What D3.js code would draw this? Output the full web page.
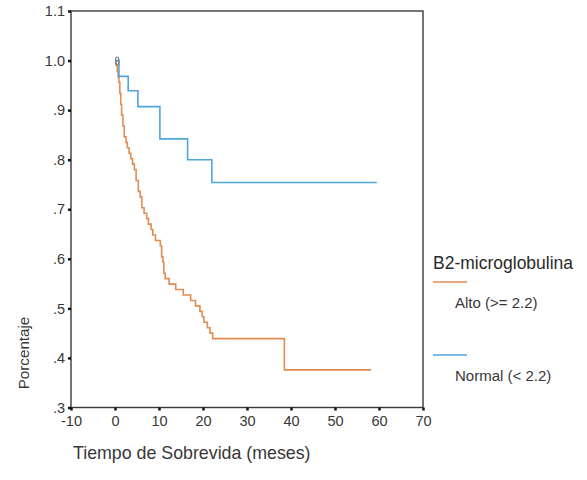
<!DOCTYPE html>
<html>
<head>
<meta charset="utf-8">
<script src="https://cdn.jsdelivr.net/npm/d3@7"></script>
<style>
  html, body { margin: 0; padding: 0; background: #fff; }
  svg { display: block; font-family: "Liberation Sans", Arial, sans-serif; }
</style>
</head>
<body>
<svg id="chart" width="587" height="480"></svg>
<script>
// ---- Data ----
const xTicks = [-10, 0, 10, 20, 30, 40, 50, 60, 70];
const xTickLabels = ["-10", "0", "10", "20", "30", "40", "50", "60", "70"];
const yTicks = [0.3, 0.4, 0.5, 0.6, 0.7, 0.8, 0.9, 1.0, 1.1];
const yTickLabels = [".3", ".4", ".5", ".6", ".7", ".8", ".9", "1.0", "1.1"];

// Normal (< 2.2): step times and survival after each step
const normalTimes  = [0, 0.9, 3.0, 5.2, 10.2, 16.5, 22.0, 59.5];
const normalValues = [1.0, 0.968, 0.939, 0.907, 0.842, 0.800, 0.754, 0.754];

// Alto (>= 2.2)
const altoTimes = [0, 0.3, 0.5, 0.7, 0.9, 1.1, 1.3, 1.5, 1.8, 2.1, 2.5, 2.8, 3.2, 3.6, 4.0, 4.4,
  4.8, 5.3, 5.7, 6.1, 6.6, 7.2, 7.6, 8.2, 8.6, 9.2, 10.3, 10.6, 10.9, 11.1, 11.4, 12.3, 13.8,
  15.5, 17.2, 18.3, 19.3, 19.8, 20.2, 21.0, 21.6, 22.2, 38.5, 58.2];
const altoValues = [1.0, 0.990, 0.978, 0.967, 0.956, 0.934, 0.912, 0.890, 0.868, 0.846, 0.835, 0.824,
  0.813, 0.802, 0.791, 0.780, 0.758, 0.736, 0.725, 0.703, 0.692, 0.681, 0.670, 0.659, 0.648, 0.637,
  0.626, 0.604, 0.593, 0.571, 0.560, 0.549, 0.538, 0.527, 0.516, 0.505, 0.494, 0.483, 0.472, 0.461,
  0.450, 0.439, 0.376, 0.376];

const censorTimes = [0.5];
const censorValues = [1.0];

const legendTitle = "B2-microglobulina";
const seriesNames = ["Alto (>= 2.2)", "Normal (< 2.2)"];
const seriesColors = ["#e38c52", "#4ea6da"];

// ---- Drawing ----
const svg = d3.select("#chart");
const x = d3.scaleLinear().domain([-10, 70]).range([71, 423]);
const y = d3.scaleLinear().domain([0.3, 1.1]).range([407.5, 11]);
const textColor = "#383838";

// Frame
svg.append("rect")
  .attr("x", x(-10)).attr("y", y(1.1))
  .attr("width", x(70) - x(-10)).attr("height", y(0.3) - y(1.1))
  .attr("fill", "none").attr("stroke", "#3a3a3a").attr("stroke-width", 1.4);

// Y axis
const yAxis = d3.axisLeft(y).tickValues(yTicks)
  .tickFormat((d, i) => yTickLabels[i]).tickSize(3).tickPadding(3);
const gy = svg.append("g").attr("transform", `translate(${x(-10)},0)`).call(yAxis);
gy.attr("font-size", null).attr("font-family", null);
gy.select(".domain").remove();
gy.selectAll(".tick line").attr("stroke", "#111").attr("stroke-width", 2.5);
gy.selectAll(".tick text").attr("fill", textColor).style("font-size", "14.5px");

// X axis
const xAxis = d3.axisBottom(x).tickValues(xTicks)
  .tickFormat((d, i) => xTickLabels[i]).tickSize(3).tickPadding(5);
const gx = svg.append("g").attr("transform", `translate(0,${y(0.3)})`).call(xAxis);
gx.attr("font-size", null).attr("font-family", null);
gx.select(".domain").remove();
gx.selectAll(".tick line").attr("stroke", "#111").attr("stroke-width", 2.5);
gx.selectAll(".tick text").attr("fill", textColor).style("font-size", "14.5px");

// Axis titles
svg.append("text")
  .attr("x", 73).attr("y", 459)
  .style("font-size", "17.8px").attr("fill", textColor)
  .text("Tiempo de Sobrevida (meses)");
svg.append("text")
  .attr("transform", "translate(29,353) rotate(-90)")
  .attr("text-anchor", "middle")
  .style("font-size", "15.2px").attr("fill", textColor)
  .text("Porcentaje");

// Curves
const line = d3.line().x(d => x(d[0])).y(d => y(d[1])).curve(d3.curveStepAfter);
const altoPts = altoTimes.map((t, i) => [t, altoValues[i]]);
const normalPts = normalTimes.map((t, i) => [t, normalValues[i]]);

svg.append("path").datum(altoPts).attr("d", line)
  .attr("fill", "none").attr("stroke", seriesColors[0]).attr("stroke-width", 1.6);
svg.append("path").datum(normalPts).attr("d", line)
  .attr("fill", "none").attr("stroke", seriesColors[1]).attr("stroke-width", 1.6);

// Censor mark near origin
svg.selectAll(".censor").data(censorTimes.map((t, i) => [t, censorValues[i]])).enter()
  .append("rect").attr("class", "censor")
  .attr("x", d => x(d[0]) - 1.5).attr("y", d => y(d[1]) - 3.5)
  .attr("width", 3).attr("height", 8).attr("rx", 1.5)
  .attr("fill", "none").attr("stroke", "#777").attr("stroke-width", 1.1);

// Legend
svg.append("text").attr("x", 433).attr("y", 269)
  .style("font-size", "17.5px").attr("fill", "#2a2a2a").text(legendTitle);
const legY = [282, 355];
seriesNames.forEach((name, i) => {
  svg.append("line").attr("x1", 433).attr("x2", 467)
    .attr("y1", legY[i]).attr("y2", legY[i])
    .attr("stroke", seriesColors[i]).attr("stroke-width", 1.6);
  svg.append("text").attr("x", 455).attr("y", legY[i] + 26)
    .style("font-size", "15px").attr("fill", textColor).text(name);
});
</script>
</body>
</html>
